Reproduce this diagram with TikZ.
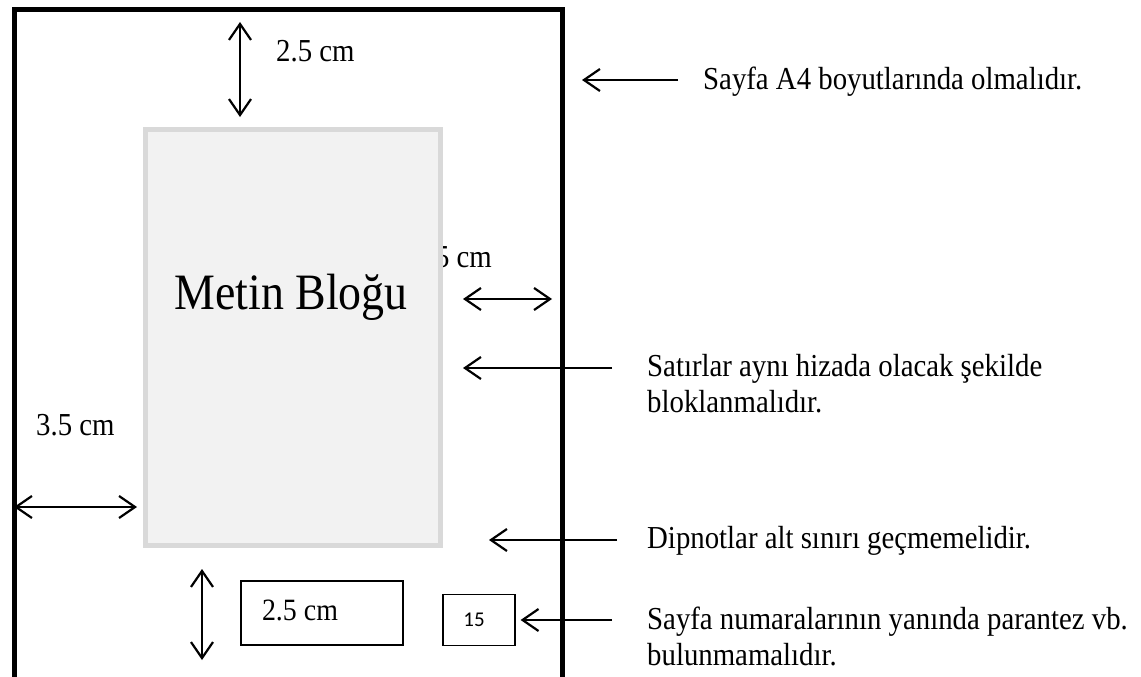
\documentclass[tikz,border=0pt]{standalone}
\usepackage{fontspec}
\setmainfont[FakeStretch=0.9]{Liberation Serif}
\newfontfamily\numfont{Carlito}
\usetikzlibrary{arrows.meta}

\begin{document}
\begin{tikzpicture}
    \tikzset{x={(1pt,0pt)}, y={(0pt,-1pt)}}
    \tikzset{
        dimline/.style={line width=2.2pt, {Straight Barb[length=16pt,width=22pt]}-{Straight Barb[length=16pt,width=22pt]}},
        noteline/.style={line width=2.2pt, -{Straight Barb[length=16pt,width=22pt]}},
        note/.style={anchor=north west, align=left, inner sep=0pt, font=\fontsize{32}{36}\selectfont},
        measure/.style={inner sep=0pt, font=\fontsize{32}{36}\selectfont},
        numbox/.style={draw, line width=1.2pt, inner sep=0pt}
    }
    \useasboundingbox (0,0) rectangle (1141,677);
    % sayfa
    \draw[line width=5pt] (14,677) -- (14,10) -- (562,10) -- (562,677);
    % sag bosluk yazisi, blogun altinda kalir
    \node[measure, anchor=east] (rightcm) at (492,257) {2.5 cm};
    % metin blogu
    \draw[draw=black!15, fill=black!5, line width=4.5pt] (145.5,129.5) rectangle (440.5,545.5);
    \node[inner sep=0pt, font=\fontsize{51}{56}\selectfont] (blok) at (291,297) {Metin Bloğu};
    % olculer
    \coordinate (topa) at (240,22);
    \coordinate (topb) at (240,117);
    \draw[dimline] (topa) -- (topb);
    \node[measure, anchor=west] (topcm) at (276,51) {2.5 cm};
    \coordinate (righta) at (463,299);
    \coordinate (rightb) at (552,299);
    \draw[dimline] (righta) -- (rightb);
    \node[measure, anchor=west] (leftcm) at (36,425) {3.5 cm};
    \coordinate (lefta) at (14,507);
    \coordinate (leftb) at (137,507);
    \draw[dimline] (lefta) -- (leftb);
    \coordinate (bota) at (202,569);
    \coordinate (botb) at (202,660);
    \draw[dimline] (bota) -- (botb);
    \node[numbox, minimum width=162pt, minimum height=64pt] (botbox) at (322,613) {};
    \node[inner sep=0pt, font=\fontsize{31}{34}\selectfont] (botcm) at (300,610) {2.5 cm};
    \node[numbox, minimum width=72pt, minimum height=51pt, font=\numfont\fontsize{21}{24}\selectfont] (pagenum) at (479,620) {15\kern10pt};
    % aciklamalar
    \node[note] (note1) at (703,66.5) {Sayfa A4 boyutlarında olmalıdır.};
    \coordinate (tail1) at (678,80);
    \coordinate (tip1) at (582,80);
    \draw[noteline] (tail1) -- (tip1);
    \node[note] (note2) at (647,354.5) {Satırlar aynı hizada olacak şekilde\\bloklanmalıdır.};
    \coordinate (tail2) at (612,368);
    \coordinate (tip2) at (463,368);
    \draw[noteline] (tail2) -- (tip2);
    \node[note] (note3) at (647,526.5) {Dipnotlar alt sınırı geçmemelidir.};
    \coordinate (tail3) at (617,540);
    \coordinate (tip3) at (489,540);
    \draw[noteline] (tail3) -- (tip3);
    \node[note] (note4) at (647,606.5) {Sayfa numaralarının yanında parantez vb.\\bulunmamalıdır.};
    \coordinate (tail4) at (612,620);
    \draw[noteline] (tail4) -- ([xshift=5pt]pagenum.east);
\end{tikzpicture}
\end{document}
